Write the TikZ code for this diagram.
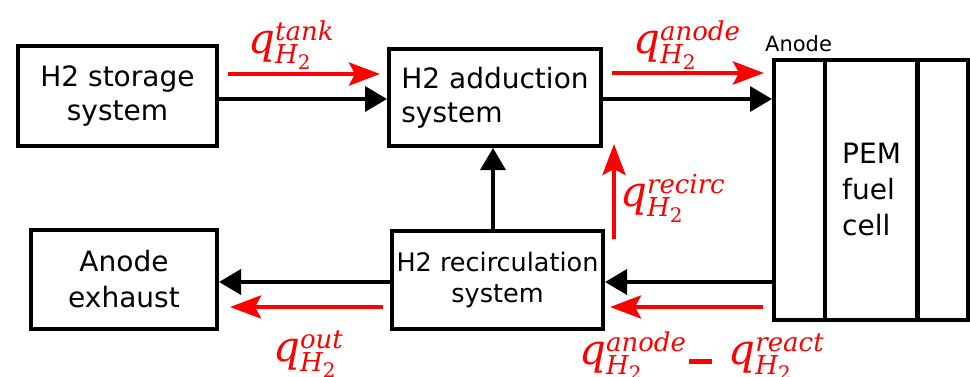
\documentclass[tikz,border=0pt]{standalone}
\usepackage{amsmath}
\usepackage{fontspec}
\setmainfont{DejaVu Sans}
\newfontfamily\flowfont{DejaVu Serif}
\usepackage{tikz}
\usetikzlibrary{arrows.meta}
\DeclareMathSizes{42}{42}{26}{20}
\newcommand\flowq[1]{$\text{q}_{\text{H}_{\text{\upshape 2}}}^{\text{#1}}$}

\begin{document}
\begin{tikzpicture}[x=1pt,y=-1pt,
  box/.style={draw,line width=4pt,inner sep=0pt,align=center,font=\fontsize{28}{34}\selectfont},
  flow/.style={-{Triangle[length=22pt,width=25pt]},line width=3.6pt},
  gas/.style={-{Stealth[length=31pt,width=23pt,inset=6pt]},line width=4.4pt,red},
  lbl/.style={red,inner sep=0pt,anchor=base west,font=\flowfont\itshape\fontsize{42}{48}\selectfont}]
  \useasboundingbox (0,0) rectangle (970,376);
  \node (storage) at (117.5,96) [box,minimum width=199pt,minimum height=100pt] {H2 storage\\system};
  \node (adduction) at (495,97.5) [box,align=left,minimum width=212pt,minimum height=97pt] {H2 adduction\\system};
  \node (exhaust) at (124,279.5) [box,minimum width=186pt,minimum height=99pt,font=\fontsize{28}{36}\selectfont] {Anode\\exhaust};
  \node (recirc) at (497.5,280) [box,minimum width=211pt,minimum height=98pt,font=\fontsize{25.5}{31}\selectfont] {H2 recirculation\\system};
  \node (fc) at (871,190) [draw,line width=4pt,minimum width=194pt,minimum height=260pt] {};
  \draw[line width=4pt] (825,0 |- fc.north) -- (825,0 |- fc.south);
  \draw[line width=4.6pt] (917.5,0 |- fc.north) -- (917.5,0 |- fc.south);
  \node (pem) at (842,189) [anchor=west,align=left,inner sep=0pt,font=\fontsize{28}{36}\selectfont] {PEM\\fuel\\cell};
  \node (anode) at (765,51) [anchor=base west,inner sep=0pt,font=\fontsize{21}{25}\selectfont] {Anode};
  \draw[flow] ([yshift=-3pt]storage.east) -- ([yshift=-3pt]storage.east -| adduction.west);
  \draw[flow] ([yshift=-1.5pt]adduction.east) -- ([yshift=-1.5pt]adduction.east -| fc.west);
  \draw[flow] ([xshift=-2pt]adduction.south |- recirc.north) -- ([xshift=-2pt]adduction.south);
  \draw[flow] ([yshift=-2pt]recirc.east -| fc.west) -- ([yshift=-2pt]recirc.east);
  \draw[flow] ([yshift=-2pt]recirc.west) -- ([yshift=-2pt]recirc.west -| exhaust.east);
  \coordinate (tankA) at (228,74);
  \coordinate (tankB) at (380,74);
  \coordinate (anodeA) at (612,73);
  \coordinate (anodeB) at (764,73);
  \coordinate (recircA) at (614,239);
  \coordinate (recircB) at (614,144);
  \coordinate (outA) at (383,307);
  \coordinate (outB) at (230,307);
  \coordinate (reactA) at (763,307);
  \coordinate (reactB) at (610,307);
  \draw[gas] (tankA) -- (tankB);
  \draw[gas] (anodeA) -- (anodeB);
  \draw[gas] (recircA) -- (recircB);
  \draw[gas] (outA) -- (outB);
  \draw[gas] (reactA) -- (reactB);
  \node (ltank) at (248,53) [lbl] {\flowq{tank}};
  \node (lanode) at (633,53) [lbl] {\flowq{anode}};
  \node (lrecirc) at (620,206) [lbl] {\flowq{recirc}};
  \node (lout) at (273,361) [lbl] {\flowq{out}};
  \node (lreact) at (579,364) [lbl] {\flowq{anode}\hspace{2pt}\rule{23pt}{5.5pt}\hspace{17pt}\flowq{react}};
\end{tikzpicture}
\end{document}
